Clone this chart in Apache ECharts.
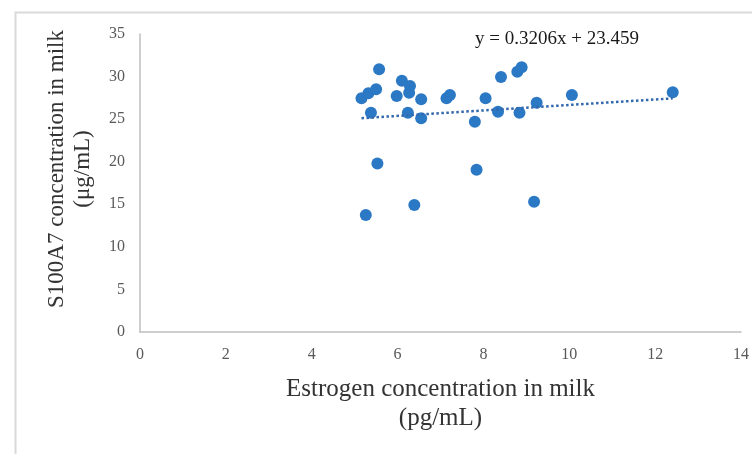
<!DOCTYPE html>
<html>
<head>
<meta charset="utf-8">
<script src="https://cdn.jsdelivr.net/npm/echarts@6/dist/echarts.min.js"></script>
<style>html,body{margin:0;padding:0;background:#fff;}#c{width:752px;height:454px;}</style>
</head>
<body>
<div id="c"></div>
<script>
const estrogen = [5.16, 5.32, 5.50, 5.57, 5.38, 5.26, 5.53, 5.98, 6.10, 6.29, 6.27, 6.24, 6.55, 6.55, 6.39, 7.14, 7.22, 7.80, 7.84, 8.05, 8.34, 8.41, 8.79, 8.89, 8.84, 9.18, 9.24, 10.06, 12.41];
const s100a7 = [27.45, 28.04, 28.51, 30.86, 25.76, 13.74, 19.78, 27.72, 29.52, 28.89, 28.11, 25.76, 27.33, 25.10, 14.92, 27.45, 27.84, 24.70, 19.06, 27.45, 25.88, 29.95, 30.57, 31.09, 25.76, 15.30, 26.93, 27.84, 28.15];
const trendX = [5.16, 12.41];
const trendY = [25.11, 27.44];
const xTicks = [0, 2, 4, 6, 8, 10, 12, 14];
const yTicks = [0, 5, 10, 15, 20, 25, 30, 35];
const equationText = 'y = 0.3206x + 23.459';
const xTitle = 'Estrogen concentration in milk\n(pg/mL)';
const yTitle = 'S100A7 concentration in milk\n(μg/mL)';

const serif = '"Liberation Serif", "Times New Roman", serif';
const chart = echarts.init(document.getElementById('c'));
chart.setOption({
  animation: false,
  backgroundColor: '#fff',
  grid: { left: 140, right: 11, top: 34, bottom: 122 },
  xAxis: {
    type: 'value', min: xTicks[0], max: xTicks[xTicks.length - 1], interval: 2,
    splitLine: { show: false },
    axisLine: { lineStyle: { color: '#bfbfbf', width: 1.5 } },
    axisTick: { show: false },
    axisLabel: { color: '#595959', fontFamily: serif, fontSize: 16, margin: 15 },
    name: xTitle, nameLocation: 'middle', nameGap: 43,
    nameTextStyle: { color: '#333', fontFamily: serif, fontSize: 25, lineHeight: 29 }
  },
  yAxis: {
    type: 'value', min: yTicks[0], max: yTicks[yTicks.length - 1], interval: 5,
    splitLine: { show: false },
    axisLine: { show: true, lineStyle: { color: '#bfbfbf', width: 1.5 } },
    axisTick: { show: false },
    axisLabel: { color: '#595959', fontFamily: serif, fontSize: 16, margin: 15 },
    name: yTitle, nameLocation: 'middle', nameGap: 44, nameRotate: 90,
    nameTextStyle: { color: '#333', fontFamily: serif, fontSize: 23, lineHeight: 26, padding: [0, 0, 0, 28] }
  },
  series: [
    {
      type: 'scatter',
      data: estrogen.map((x, i) => [x, s100a7[i]]),
      symbolSize: 12,
      itemStyle: { color: '#2b78c5', opacity: 1 },
      z: 2
    },
    {
      type: 'line',
      data: trendX.map((x, i) => [x, trendY[i]]),
      symbol: 'none',
      lineStyle: { color: '#3268ad', width: 2.5, type: [2.5, 2.5] },
      z: 3
    }
  ],
  graphic: [
    { type: 'rect', left: 13, top: 10, shape: { width: 800, height: 500 }, style: { fill: 'none', stroke: '#d9d9d9', lineWidth: 2 }, silent: true, z: -1 },
    { type: 'text', x: 557, y: 39, style: { text: equationText, fill: '#1a1a1a', font: '19px ' + serif, align: 'center', verticalAlign: 'middle' } }
  ]
});
</script>
</body>
</html>
